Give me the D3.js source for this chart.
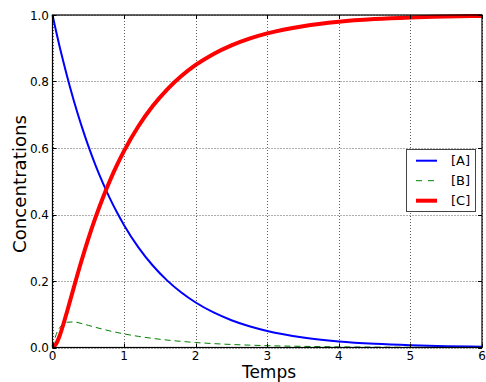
<!DOCTYPE html>
<html>
<head>
<meta charset="utf-8">
<script src="https://cdn.jsdelivr.net/npm/d3@7"></script>
<style>
  body { margin: 0; background: #fff; }
  svg { display: block; font-family: "DejaVu Sans", sans-serif; }
</style>
</head>
<body>
<div id="chart"></div>
<script>
// values
const temps = [0, 0.05, 0.1, 0.15, 0.2, 0.3, 0.4, 0.5, 0.6, 0.7, 0.8, 0.9, 1.0,
  1.2, 1.4, 1.6, 1.8, 2.0, 2.25, 2.5, 2.75, 3.0, 3.5, 4.0, 4.5, 5.0, 5.5, 6.0];
const concA = [1, 0.9512, 0.9048, 0.8607, 0.8187, 0.7408, 0.6703, 0.6065, 0.5488, 0.4966, 0.4493, 0.4066, 0.3679,
  0.3012, 0.2466, 0.2019, 0.1653, 0.1353, 0.1054, 0.0821, 0.0639, 0.0498, 0.0302, 0.0183, 0.0111, 0.0067, 0.0041, 0.0025];
const concB = [0, 0.0383, 0.0597, 0.0708, 0.0759, 0.0768, 0.0724, 0.0666, 0.0607, 0.0551, 0.0499, 0.0452, 0.0409,
  0.0335, 0.0274, 0.0224, 0.0184, 0.0150, 0.0117, 0.0091, 0.0071, 0.0055, 0.0034, 0.0020, 0.0012, 0.0007, 0.0005, 0.0003];
const concC = [0, 0.0105, 0.0355, 0.0685, 0.1054, 0.1824, 0.2573, 0.3269, 0.3905, 0.4483, 0.5008, 0.5482, 0.5912,
  0.6653, 0.7260, 0.7757, 0.8163, 0.8497, 0.8829, 0.9088, 0.9290, 0.9447, 0.9664, 0.9797, 0.9877, 0.9926, 0.9954, 0.9972];
const xTicks = [0, 1, 2, 3, 4, 5, 6];
const yTicks = [0, 0.2, 0.4, 0.6, 0.8, 1.0];
const seriesNames = ['[A]', '[B]', '[C]'];

const width = 486, height = 382;
const plotLeft = 52.5, plotRight = 482, plotTop = 15, plotBottom = 347.5;

const svg = d3.select('#chart').append('svg')
  .attr('width', width)
  .attr('height', height);

const x = d3.scaleLinear().domain([0, 6]).range([plotLeft, plotRight]);
const y = d3.scaleLinear().domain([0, 1]).range([plotBottom, plotTop]);

// grid (dotted)
const grid = svg.append('g')
  .attr('stroke', '#333')
  .attr('stroke-width', 0.8)
  .attr('stroke-dasharray', '1,2');
grid.selectAll('.gx').data(xTicks).enter().append('line')
  .attr('x1', d => Math.round(x(d)) + 0.5).attr('x2', d => Math.round(x(d)) + 0.5)
  .attr('y1', plotTop).attr('y2', plotBottom);
grid.selectAll('.gy').data(yTicks).enter().append('line')
  .attr('y1', d => Math.round(y(d)) + 0.5).attr('y2', d => Math.round(y(d)) + 0.5)
  .attr('x1', plotLeft).attr('x2', plotRight);

// curves
const plot = svg.append('g');
const makeLine = vals => d3.line()
  .x((d, i) => x(temps[i]))
  .y(d => y(d))
  .curve(d3.curveMonotoneX)(vals);

plot.append('path')
  .attr('d', makeLine(concA))
  .attr('fill', 'none')
  .attr('stroke', '#0000ff')
  .attr('stroke-width', 2);

plot.append('path')
  .attr('d', makeLine(concB))
  .attr('fill', 'none')
  .attr('stroke', '#008000')
  .attr('stroke-width', 1)
  .attr('stroke-dasharray', '6,4');

plot.append('path')
  .attr('d', makeLine(concC))
  .attr('fill', 'none')
  .attr('stroke', '#ff0000')
  .attr('stroke-width', 4);

// frame
svg.append('rect')
  .attr('x', plotLeft).attr('y', plotTop)
  .attr('width', plotRight - plotLeft).attr('height', plotBottom - plotTop)
  .attr('fill', 'none')
  .attr('stroke', '#000')
  .attr('stroke-width', 1.2);

// ticks inward on all four sides
const ticks = svg.append('g').attr('stroke', '#000').attr('stroke-width', 1);
xTicks.forEach(t => {
  const px = Math.round(x(t)) + 0.5;
  ticks.append('line').attr('x1', px).attr('x2', px).attr('y1', plotBottom).attr('y2', plotBottom - 4);
  ticks.append('line').attr('x1', px).attr('x2', px).attr('y1', plotTop).attr('y2', plotTop + 4);
});
yTicks.forEach(t => {
  const py = Math.round(y(t)) + 0.5;
  ticks.append('line').attr('y1', py).attr('y2', py).attr('x1', plotLeft).attr('x2', plotLeft + 4);
  ticks.append('line').attr('y1', py).attr('y2', py).attr('x1', plotRight).attr('x2', plotRight - 4);
});

// tick labels
svg.append('g').selectAll('text').data(xTicks).enter().append('text')
  .attr('x', d => x(d))
  .attr('y', 360)
  .attr('text-anchor', 'middle')
  .attr('font-size', 12)
  .text(d => d);

svg.append('g').selectAll('text').data(yTicks).enter().append('text')
  .attr('x', 49)
  .attr('y', d => y(d) + 4.5)
  .attr('text-anchor', 'end')
  .attr('font-size', 12)
  .text(d => d3.format('.1f')(d));

// axis labels
svg.append('text')
  .attr('x', 269)
  .attr('y', 377.5)
  .attr('text-anchor', 'middle')
  .attr('font-size', 17)
  .text('Temps');

svg.append('text')
  .attr('transform', 'translate(26,184) rotate(-90)')
  .attr('text-anchor', 'middle')
  .attr('font-size', 18.2)
  .text('Concentrations');

// legend
const legend = svg.append('g');
legend.append('rect')
  .attr('x', 406.5).attr('y', 149.5)
  .attr('width', 69).attr('height', 62)
  .attr('fill', '#fff')
  .attr('stroke', '#444')
  .attr('stroke-width', 1);

const legendStyles = [
  { color: '#0000ff', w: 2, dash: null },
  { color: '#008000', w: 1, dash: '6,6' },
  { color: '#ff0000', w: 4, dash: null }
];
seriesNames.forEach((name, i) => {
  const ly = 160.7 + i * 20;
  legend.append('line')
    .attr('x1', 416).attr('x2', 437)
    .attr('y1', ly).attr('y2', ly)
    .attr('stroke', legendStyles[i].color)
    .attr('stroke-width', legendStyles[i].w)
    .attr('stroke-dasharray', legendStyles[i].dash);
  legend.append('text')
    .attr('x', 451)
    .attr('y', ly + 4.5)
    .attr('font-size', 13)
    .text(name);
});
</script>
</body>
</html>
